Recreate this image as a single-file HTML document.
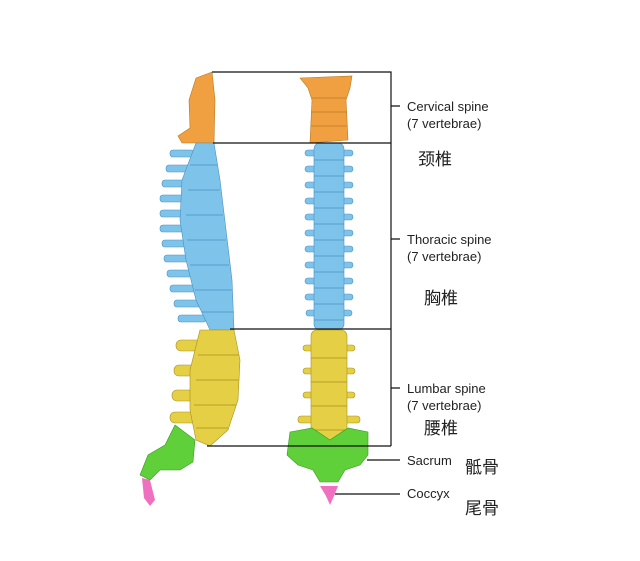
<!DOCTYPE html>
<html><head><meta charset="utf-8"><style>
html,body{margin:0;padding:0;background:#fff;}
svg{display:block}
text{font-family:"Liberation Sans","Noto Sans CJK SC",sans-serif;fill:#222}
</style></head><body>
<svg width="640" height="561" viewBox="0 0 640 561" xmlns="http://www.w3.org/2000/svg">
<!-- side view -->
<path d="M196 78 L212 72 L215 100 L214 143 L182 143 L178 136 L190 128 L189 100 Z" fill="#f0a040" stroke="#b87a20" stroke-width="0.6"/>
<g fill="#7ec4ea" stroke="#4a90c0" stroke-width="0.6">
<rect x="170" y="150" width="24" height="7" rx="3"/>
<rect x="166" y="165" width="24" height="7" rx="3"/>
<rect x="162" y="180" width="24" height="7" rx="3"/>
<rect x="160" y="195" width="24" height="7" rx="3"/>
<rect x="160" y="210" width="24" height="7" rx="3"/>
<rect x="160" y="225" width="26" height="7" rx="3"/>
<rect x="162" y="240" width="26" height="7" rx="3"/>
<rect x="164" y="255" width="28" height="7" rx="3"/>
<rect x="167" y="270" width="28" height="7" rx="3"/>
<rect x="170" y="285" width="28" height="7" rx="3"/>
<rect x="174" y="300" width="28" height="7" rx="3"/>
<rect x="178" y="315" width="28" height="7" rx="3"/>
<path d="M196 143 L214 143 L220 180 L226 230 L232 280 L234 330 L210 330 L196 300 L186 260 L180 220 L182 180 Z"/>
</g>
<g stroke="#4a90c0" stroke-width="0.8">
<path d="M190 165 H217 M188 190 H220 M186 215 H223 M187 240 H226 M190 265 H229 M195 290 H232 M202 312 H234"/>
</g>
<g fill="#e4cf45" stroke="#a89020" stroke-width="0.6">
<rect x="176" y="340" width="32" height="11" rx="5"/>
<rect x="174" y="365" width="32" height="11" rx="5"/>
<rect x="172" y="390" width="32" height="11" rx="5"/>
<rect x="170" y="412" width="30" height="11" rx="5"/>
<path d="M200 330 L234 330 L240 360 L238 400 L228 430 L210 446 L196 440 L190 410 L190 370 Z"/>
</g>
<g stroke="#a89020" stroke-width="0.8">
<path d="M198 355 H239 M196 380 H239 M194 405 H236 M196 428 H228"/>
</g>
<path d="M175 425 L195 440 L193 462 L180 470 L160 470 L150 480 L140 475 L148 455 L165 445 Z" fill="#5fcf3a" stroke="#3a9a20" stroke-width="0.6"/>
<path d="M142 478 L150 480 L155 500 L150 506 L144 498 Z" fill="#f070c0"/>
<!-- front view -->
<path d="M300 78 L352 76 L350 88 L346 100 L348 140 L310 143 L312 100 L308 88 Z" fill="#f0a040" stroke="#b87a20" stroke-width="0.6"/>
<g stroke="#b87a20" stroke-width="0.8"><path d="M312 98 H346 M311 112 H347 M311 126 H347"/></g>
<g fill="#7ec4ea" stroke="#4a90c0" stroke-width="0.6">
<rect x="305" y="150" width="48" height="6" rx="3"/>
<rect x="305" y="166" width="48" height="6" rx="3"/>
<rect x="305" y="182" width="48" height="6" rx="3"/>
<rect x="305" y="198" width="48" height="6" rx="3"/>
<rect x="305" y="214" width="48" height="6" rx="3"/>
<rect x="305" y="230" width="48" height="6" rx="3"/>
<rect x="305" y="246" width="48" height="6" rx="3"/>
<rect x="305" y="262" width="48" height="6" rx="3"/>
<rect x="305" y="278" width="48" height="6" rx="3"/>
<rect x="305" y="294" width="48" height="6" rx="3"/>
<rect x="306" y="310" width="46" height="6" rx="3"/>
<rect x="314" y="143" width="30" height="187" rx="6"/>
</g>
<g stroke="#4a90c0" stroke-width="0.8"><path d="M314 160 H344 M314 176 H344 M314 192 H344 M314 208 H344 M314 224 H344 M314 240 H344 M314 256 H344 M314 272 H344 M314 288 H344 M314 304 H344 M314 320 H344"/></g>
<g fill="#e4cf45" stroke="#a89020" stroke-width="0.6">
<rect x="303" y="345" width="52" height="6" rx="3"/>
<rect x="303" y="368" width="52" height="6" rx="3"/>
<rect x="303" y="392" width="52" height="6" rx="3"/>
<rect x="298" y="416" width="62" height="7" rx="3"/>
<rect x="311" y="330" width="36" height="115" rx="6"/>
</g>
<g stroke="#a89020" stroke-width="0.8"><path d="M311 358 H347 M311 382 H347 M311 406 H347 M311 430 H347"/></g>
<path d="M290 432 L312 428 L330 440 L348 428 L368 432 L368 455 L360 465 L345 470 L338 482 L320 482 L313 470 L298 465 L287 455 Z" fill="#5fcf3a" stroke="#3a9a20" stroke-width="0.6"/>
<path d="M320 486 L338 486 L334 496 L330 505 L326 496 Z" fill="#f070c0"/>
<!-- lines -->
<g stroke="#111" stroke-width="1.2" fill="none">
<path d="M212 72 H391 V446"/>
<path d="M213 143 H391"/>
<path d="M230 329 H391"/>
<path d="M207 446 H391"/>
<path d="M391 106 H400 M391 239 H400 M391 388 H400"/>
<path d="M367 460 H400 M335 494 H400"/>
</g>
<g font-size="13">
<text x="407" y="111">Cervical spine</text>
<text x="407" y="128">(7 vertebrae)</text>
<text x="407" y="244">Thoracic spine</text>
<text x="407" y="261">(7 vertebrae)</text>
<text x="407" y="393">Lumbar spine</text>
<text x="407" y="410">(7 vertebrae)</text>
<text x="407" y="465">Sacrum</text>
<text x="407" y="498">Coccyx</text>
</g>
<g font-size="17">
<text x="418" y="165">颈椎</text>
<text x="424" y="304">胸椎</text>
<text x="424" y="434">腰椎</text>
<text x="465" y="473">骶骨</text>
<text x="465" y="514">尾骨</text>
</g>
</svg>
</body></html>
